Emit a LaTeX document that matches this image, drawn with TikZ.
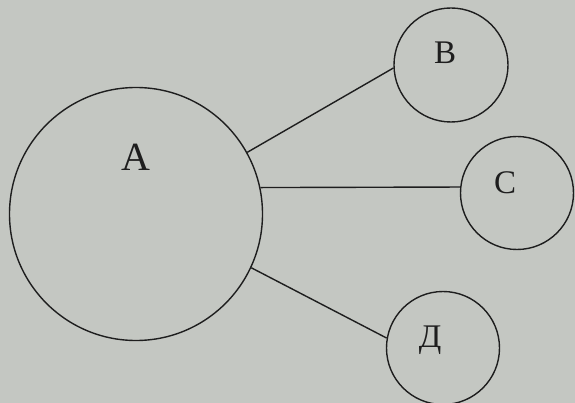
\documentclass[tikz,border=0pt]{standalone}
\usepackage{fontspec}
\setmainfont{Liberation Serif}
\definecolor{paper}{RGB}{196,199,194}
\definecolor{ink}{RGB}{30,30,30}
\tikzset{
  bubble/.style={circle, draw=ink, line width=1.4pt, inner sep=0pt},
  link/.style={draw=ink, line width=1.4pt},
  lbl/.style={text=ink, inner sep=0pt}
}
\begin{document}
\begin{tikzpicture}[x=1pt,y=-1pt]
\fill[paper] (0,0) rectangle (575,403);
\useasboundingbox (0,0) rectangle (575,403);
\node[bubble, minimum size=253pt] (A) at (136,214) {};
\node[bubble, minimum size=114pt] (B) at (451,65) {};
\node[bubble, minimum size=113pt] (C) at (517,193) {};
\node[bubble, minimum size=113pt] (D) at (443,348) {};
\node[lbl, font=\fontsize{40}{40}\selectfont] (lA) at (136,157) {А};
\node[lbl, font=\fontsize{33}{33}\selectfont] (lB) at (445,53) {В};
\node[lbl, font=\fontsize{33}{33}\selectfont] (lC) at (505,183) {С};
\node[lbl, font=\fontsize{33}{33}\selectfont] (lD) at (430,340) {Д};
\draw[link] (A.29.6) -- (B.183.9);
\draw[link] (A.12.5) -- (C.174);
\draw[link] (A.-25.6) -- (D.170);
\end{tikzpicture}
\end{document}
